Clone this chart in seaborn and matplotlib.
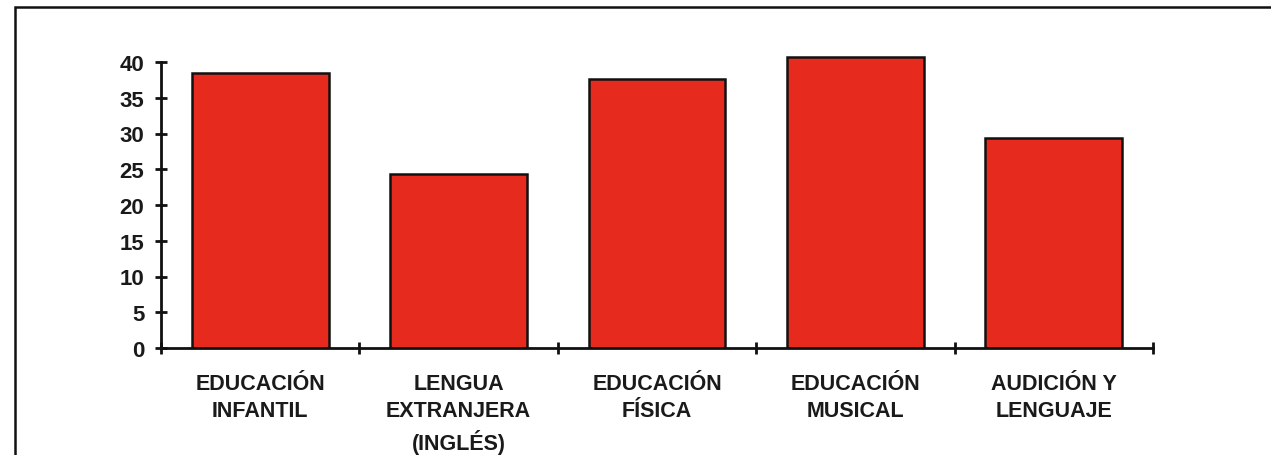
import numpy as np
import pandas as pd
import seaborn as sns
import matplotlib.pyplot as plt
from matplotlib.patches import Rectangle

categories = ["EDUCACIÓN\nINFANTIL", "LENGUA\nEXTRANJERA\n(INGLÉS)",
              "EDUCACIÓN\nFÍSICA", "EDUCACIÓN\nMUSICAL", "AUDICIÓN Y\nLENGUAJE"]
values = [38.5, 24.3, 37.6, 40.7, 29.4]
y_ticks = [0, 5, 10, 15, 20, 25, 30, 35, 40]

W, H = 1271, 456
Y_TOP = 41.5


def build_graph():
    sns.set_style("white")
    plt.rcParams['font.family'] = ['Liberation Sans', 'DejaVu Sans']
    plt.rcParams['font.weight'] = 'bold'

    fig = plt.figure(figsize=(W / 100, H / 100), dpi=100)
    px_per_unit = 286 / 40
    ax = fig.add_axes([161 / W, 1 - 349 / H, 992 / W, Y_TOP * px_per_unit / H])

    df = pd.DataFrame({'cat': categories, 'val': values})
    sns.barplot(data=df, x='cat', y='val', color='#E62A1D', saturation=1,
                edgecolor='#111111', linewidth=1.8, width=0.69, ax=ax)

    ax.set_xlim(-0.5, len(categories) - 0.5)
    ax.set_ylim(0, Y_TOP)
    ax.set_xlabel('')
    ax.set_ylabel('')

    for side in ['top', 'right']:
        ax.spines[side].set_visible(False)
    for side in ['left', 'bottom']:
        ax.spines[side].set_color('#111111')
        ax.spines[side].set_linewidth(2)
    ax.spines['left'].set_bounds(0, 40)

    ax.set_yticks(y_ticks)
    ax.set_yticklabels([str(v) for v in y_ticks], fontsize=16, fontweight='bold', color='#1a1a1a')
    ax.tick_params(axis='y', left=True, direction='inout', length=8, width=2, color='#111111', pad=8)

    ax.set_xticks(range(len(categories)))
    ax.set_xticklabels(categories, fontsize=15.5, fontweight='bold', color='#1a1a1a', linespacing=1.38)
    ax.set_xticks(np.arange(-0.5, len(categories)), minor=True)
    ax.tick_params(axis='x', which='major', bottom=True, length=0, pad=18)
    ax.tick_params(axis='x', which='minor', bottom=True, direction='inout', length=9, width=2, color='#111111')

    # outer frame of the scanned figure
    fig.patches.append(Rectangle((15 / W, -0.1), 1.2, 1 - 8 / H + 0.1, transform=fig.transFigure,
                                 fill=False, edgecolor='#111111', linewidth=1.8))

    fig.savefig('out.png', dpi=100)


if __name__ == "__main__":
    build_graph()
